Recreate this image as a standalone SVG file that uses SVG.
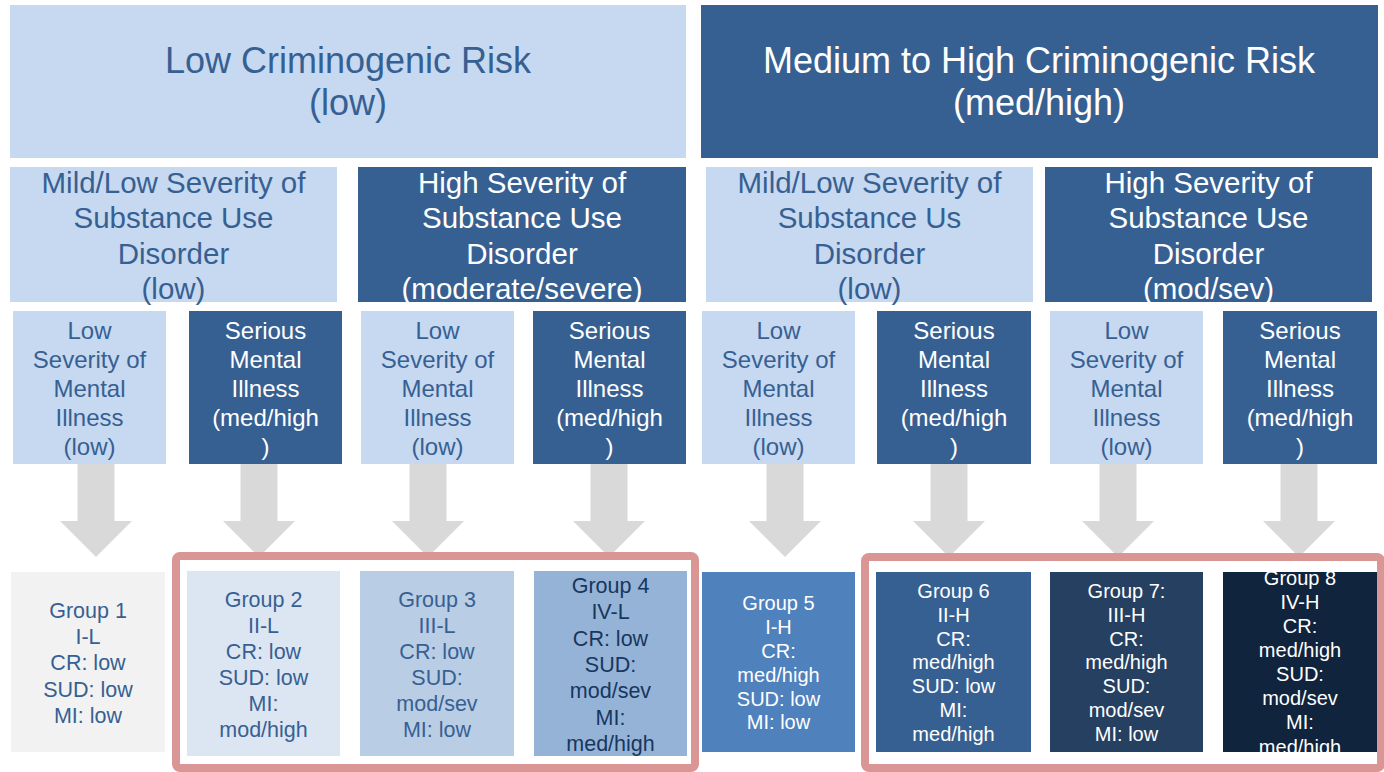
<svg xmlns="http://www.w3.org/2000/svg" width="1384" height="772" viewBox="0 0 1384 772">
<style>
text{font-family:"Liberation Sans",Arial,sans-serif;text-anchor:middle}
.lt{fill:#c6d9f1}.dk{fill:#376092}
.tl{fill:#376092}.tw{fill:#ffffff}
.h1{font-size:36px}.h2{font-size:29.5px}.h3{font-size:24px}.g1{font-size:21.5px}.g2{font-size:20px}
.arr{fill:#d9d9d9}
.hl{fill:none;stroke:#d99694;stroke-width:8}
</style>
<defs>
<clipPath id="c8"><rect x="1223" y="572" width="154" height="180"/></clipPath>
</defs>
<rect width="1384" height="772" fill="#ffffff"/>
<g id="risk-low"><rect class="lt" x="10" y="5" width="676" height="153"/><text class="h1 tl" x="348" y="73">Low Criminogenic Risk</text><text class="h1 tl" x="348" y="115">(low)</text></g>
<g id="risk-high"><rect class="dk" x="701" y="5" width="677" height="153"/><text class="h1 tw" x="1039" y="73">Medium to High Criminogenic Risk</text><text class="h1 tw" x="1039" y="115">(med/high)</text></g>
<g id="sud-low-l"><rect class="lt" x="10" y="167" width="327" height="135"/><text class="h2 tl" x="173.5"><tspan x="173.5" y="193">Mild/Low Severity of</tspan><tspan x="173.5" y="228">Substance Use</tspan><tspan x="173.5" y="264">Disorder</tspan><tspan x="173.5" y="299">(low)</tspan></text></g>
<g id="sud-high-l"><rect class="dk" x="358" y="167" width="328" height="135"/><text class="h2 tw" x="522"><tspan x="522" y="193">High Severity of</tspan><tspan x="522" y="228">Substance Use</tspan><tspan x="522" y="264">Disorder</tspan><tspan x="522" y="299">(moderate/severe)</tspan></text></g>
<g id="sud-low-h"><rect class="lt" x="706" y="167" width="327" height="135"/><text class="h2 tl" x="869.5"><tspan x="869.5" y="193">Mild/Low Severity of</tspan><tspan x="869.5" y="228">Substance Us</tspan><tspan x="869.5" y="264">Disorder</tspan><tspan x="869.5" y="299">(low)</tspan></text></g>
<g id="sud-high-h"><rect class="dk" x="1045" y="167" width="327" height="135"/><text class="h2 tw" x="1208.5"><tspan x="1208.5" y="193">High Severity of</tspan><tspan x="1208.5" y="228">Substance Use</tspan><tspan x="1208.5" y="264">Disorder</tspan><tspan x="1208.5" y="299">(mod/sev)</tspan></text></g>
<g id="mi-1"><rect class="lt" x="13" y="311" width="153" height="153"/><text class="h3 tl"><tspan x="89.5" y="339">Low</tspan><tspan x="89.5" y="368">Severity of</tspan><tspan x="89.5" y="397">Mental</tspan><tspan x="89.5" y="426">Illness</tspan><tspan x="89.5" y="455">(low)</tspan></text></g>
<g id="mi-2"><rect class="dk" x="189" y="311" width="153" height="153"/><text class="h3 tw"><tspan x="265.5" y="339">Serious</tspan><tspan x="265.5" y="368">Mental</tspan><tspan x="265.5" y="397">Illness</tspan><tspan x="265.5" y="426">(med/high</tspan><tspan x="265.5" y="455">)</tspan></text></g>
<g id="mi-3"><rect class="lt" x="361" y="311" width="153" height="153"/><text class="h3 tl"><tspan x="437.5" y="339">Low</tspan><tspan x="437.5" y="368">Severity of</tspan><tspan x="437.5" y="397">Mental</tspan><tspan x="437.5" y="426">Illness</tspan><tspan x="437.5" y="455">(low)</tspan></text></g>
<g id="mi-4"><rect class="dk" x="533" y="311" width="153" height="153"/><text class="h3 tw"><tspan x="609.5" y="339">Serious</tspan><tspan x="609.5" y="368">Mental</tspan><tspan x="609.5" y="397">Illness</tspan><tspan x="609.5" y="426">(med/high</tspan><tspan x="609.5" y="455">)</tspan></text></g>
<g id="mi-5"><rect class="lt" x="702" y="311" width="153" height="153"/><text class="h3 tl"><tspan x="778.5" y="339">Low</tspan><tspan x="778.5" y="368">Severity of</tspan><tspan x="778.5" y="397">Mental</tspan><tspan x="778.5" y="426">Illness</tspan><tspan x="778.5" y="455">(low)</tspan></text></g>
<g id="mi-6"><rect class="dk" x="877" y="311" width="154" height="153"/><text class="h3 tw"><tspan x="954" y="339">Serious</tspan><tspan x="954" y="368">Mental</tspan><tspan x="954" y="397">Illness</tspan><tspan x="954" y="426">(med/high</tspan><tspan x="954" y="455">)</tspan></text></g>
<g id="mi-7"><rect class="lt" x="1050" y="311" width="153" height="153"/><text class="h3 tl"><tspan x="1126.5" y="339">Low</tspan><tspan x="1126.5" y="368">Severity of</tspan><tspan x="1126.5" y="397">Mental</tspan><tspan x="1126.5" y="426">Illness</tspan><tspan x="1126.5" y="455">(low)</tspan></text></g>
<g id="mi-8"><rect class="dk" x="1223" y="311" width="154" height="153"/><text class="h3 tw"><tspan x="1300" y="339">Serious</tspan><tspan x="1300" y="368">Mental</tspan><tspan x="1300" y="397">Illness</tspan><tspan x="1300" y="426">(med/high</tspan><tspan x="1300" y="455">)</tspan></text></g>
<g id="connectors">
<polygon class="arr" points="77.5,464 114.5,464 114.5,521 132,521 96,557 60,521 77.5,521"/>
<polygon class="arr" points="240.5,464 277.5,464 277.5,521 295,521 259,557 223,521 240.5,521"/>
<polygon class="arr" points="409.5,464 446.5,464 446.5,521 464,521 428,557 392,521 409.5,521"/>
<polygon class="arr" points="590.5,464 627.5,464 627.5,521 645,521 609,557 573,521 590.5,521"/>
<polygon class="arr" points="766.5,464 803.5,464 803.5,521 821,521 785,557 749,521 766.5,521"/>
<polygon class="arr" points="930.5,464 967.5,464 967.5,521 985,521 949,557 913,521 930.5,521"/>
<polygon class="arr" points="1099.5,464 1136.5,464 1136.5,521 1154,521 1118,557 1082,521 1099.5,521"/>
<polygon class="arr" points="1280.5,464 1317.5,464 1317.5,521 1335,521 1299,557 1263,521 1280.5,521"/>
</g>
<g id="group-1"><rect fill="#f2f2f2" x="11" y="572" width="154" height="180"/><text class="g1 tl"><tspan x="88" y="618">Group 1</tspan><tspan x="88" y="644">I-L</tspan><tspan x="88" y="670">CR: low</tspan><tspan x="88" y="697">SUD: low</tspan><tspan x="88" y="723">MI: low</tspan></text></g>
<g id="group-2"><rect fill="#dce6f2" x="187" y="571" width="153" height="185"/><text class="g1 tl"><tspan x="263.5" y="607">Group 2</tspan><tspan x="263.5" y="633">II-L</tspan><tspan x="263.5" y="659">CR: low</tspan><tspan x="263.5" y="685">SUD: low</tspan><tspan x="263.5" y="711">MI:</tspan><tspan x="263.5" y="737">mod/high</tspan></text></g>
<g id="group-3"><rect fill="#b9cde5" x="360" y="571" width="154" height="185"/><text class="g1 tl"><tspan x="437" y="607">Group 3</tspan><tspan x="437" y="633">III-L</tspan><tspan x="437" y="659">CR: low</tspan><tspan x="437" y="685">SUD:</tspan><tspan x="437" y="711">mod/sev</tspan><tspan x="437" y="737">MI: low</tspan></text></g>
<g id="group-4"><rect fill="#95b3d7" x="534" y="571" width="153" height="185"/><text class="g1" fill="#17375e"><tspan x="610.5" y="593">Group 4</tspan><tspan x="610.5" y="619">IV-L</tspan><tspan x="610.5" y="646">CR: low</tspan><tspan x="610.5" y="672">SUD:</tspan><tspan x="610.5" y="698">mod/sev</tspan><tspan x="610.5" y="725">MI:</tspan><tspan x="610.5" y="751">med/high</tspan></text></g>
<g id="group-5"><rect fill="#4f81bd" x="702" y="572" width="153" height="180"/><text class="g2 tw"><tspan x="778.5" y="610">Group 5</tspan><tspan x="778.5" y="634">I-H</tspan><tspan x="778.5" y="658">CR:</tspan><tspan x="778.5" y="682">med/high</tspan><tspan x="778.5" y="706">SUD: low</tspan><tspan x="778.5" y="729">MI: low</tspan></text></g>
<g id="group-6"><rect fill="#376092" x="876" y="572" width="155" height="180"/><text class="g2 tw"><tspan x="953.5" y="598">Group 6</tspan><tspan x="953.5" y="622">II-H</tspan><tspan x="953.5" y="646">CR:</tspan><tspan x="953.5" y="669">med/high</tspan><tspan x="953.5" y="693">SUD: low</tspan><tspan x="953.5" y="717">MI:</tspan><tspan x="953.5" y="741">med/high</tspan></text></g>
<g id="group-7"><rect fill="#254061" x="1050" y="572" width="153" height="180"/><text class="g2 tw"><tspan x="1126.5" y="598">Group 7:</tspan><tspan x="1126.5" y="622">III-H</tspan><tspan x="1126.5" y="646">CR:</tspan><tspan x="1126.5" y="669">med/high</tspan><tspan x="1126.5" y="693">SUD:</tspan><tspan x="1126.5" y="717">mod/sev</tspan><tspan x="1126.5" y="741">MI: low</tspan></text></g>
<g id="group-8"><rect fill="#10243e" x="1223" y="572" width="154" height="180"/><text class="g2 tw" clip-path="url(#c8)"><tspan x="1300" y="585">Group 8</tspan><tspan x="1300" y="609">IV-H</tspan><tspan x="1300" y="633">CR:</tspan><tspan x="1300" y="657">med/high</tspan><tspan x="1300" y="681">SUD:</tspan><tspan x="1300" y="705">mod/sev</tspan><tspan x="1300" y="729">MI:</tspan><tspan x="1300" y="754">med/high</tspan></text></g>
<g id="highlight-low"><rect class="hl" x="176" y="556" width="519" height="212" rx="4"/></g>
<g id="highlight-high"><rect class="hl" x="865" y="557" width="516" height="211" rx="4"/></g>
</svg>
